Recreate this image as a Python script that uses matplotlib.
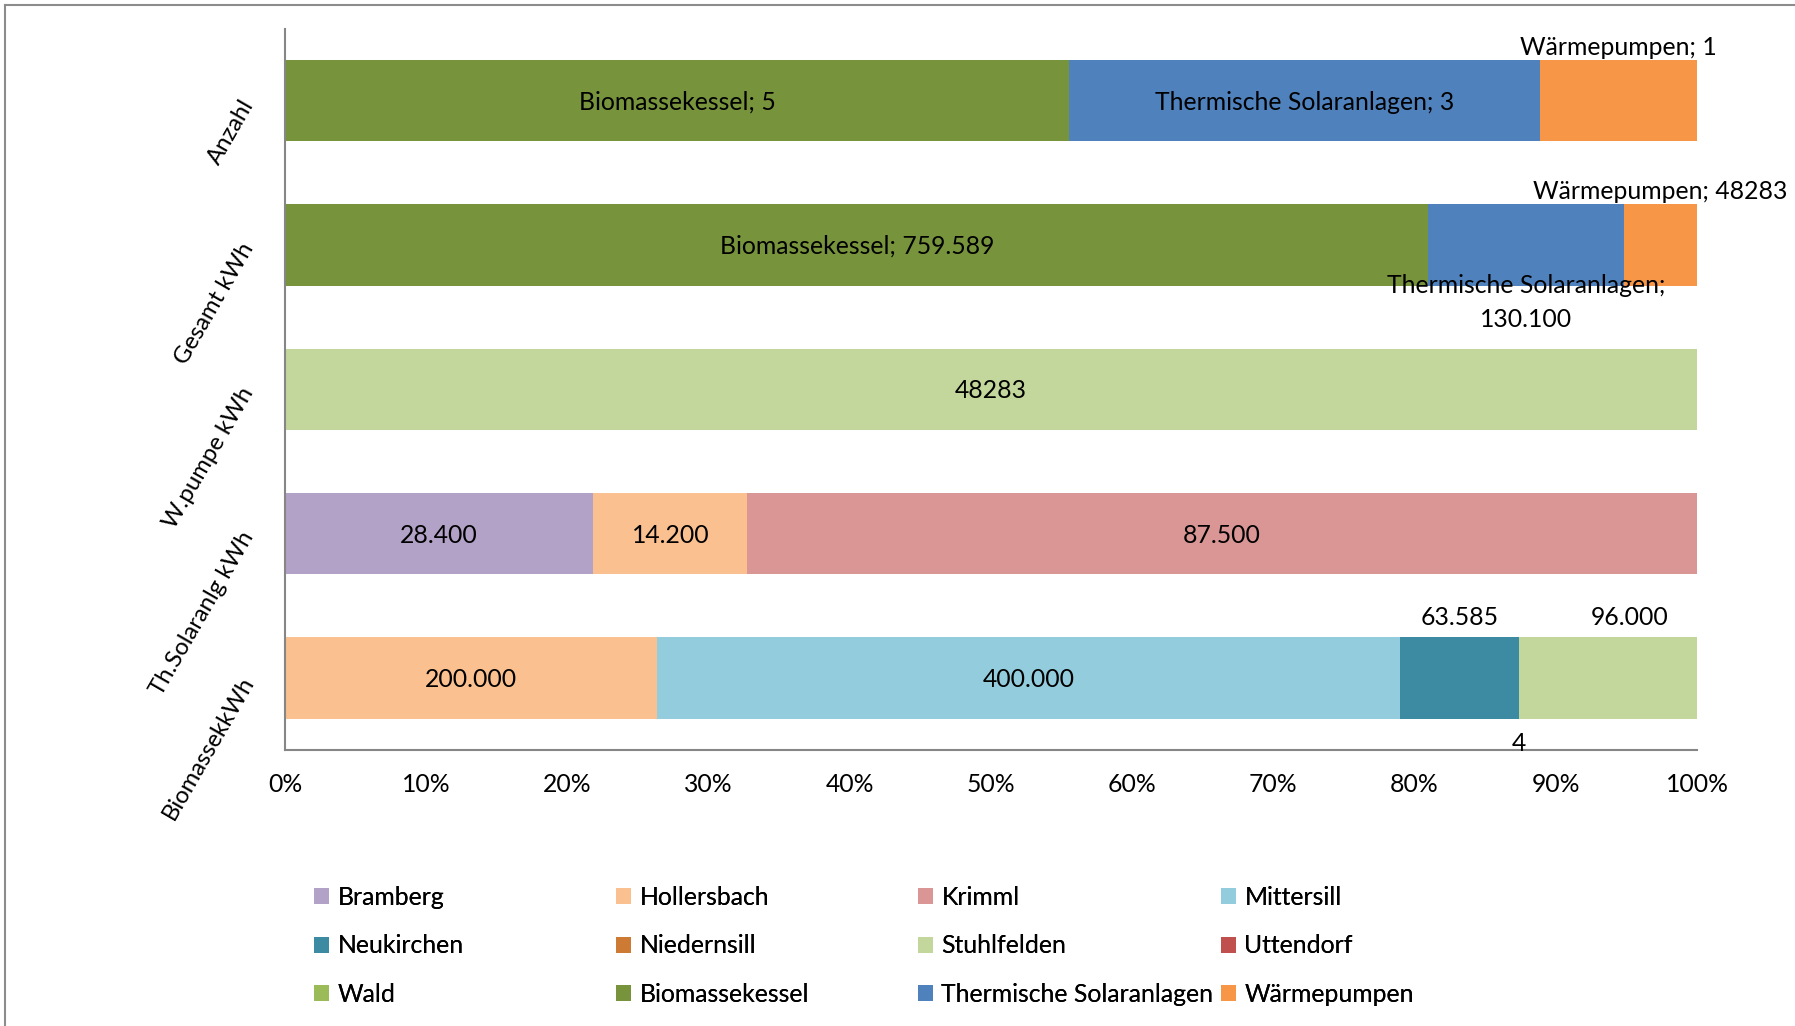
import matplotlib
matplotlib.use("Agg")
import matplotlib.pyplot as plt
from matplotlib.patches import Patch
from matplotlib.lines import Line2D
import numpy as np

plt.rcParams['font.family'] = ['Lato', 'DejaVu Sans']

# Categories, bottom to top
categories = ["BiomassekkWh", "Th.Solaranlg kWh", "W.pumpe kWh", "Gesamt kWh", "Anzahl"]

# Series values per category (same order as categories)
bramberg       = [0,      28400, 0,     0,      0]
hollersbach    = [200000, 14200, 0,     0,      0]
krimml         = [0,      87500, 0,     0,      0]
mittersill     = [400000, 0,     0,     0,      0]
neukirchen     = [63585,  0,     0,     0,      0]
niedernsill    = [4,      0,     0,     0,      0]
stuhlfelden    = [96000,  0,     48283, 0,      0]
uttendorf      = [0,      0,     0,     0,      0]
wald           = [0,      0,     0,     0,      0]
biomassekessel = [0,      0,     0,     759589, 5]
thermisch      = [0,      0,     0,     130100, 3]
waermepumpen   = [0,      0,     0,     48283,  1]

series_names = ["Bramberg", "Hollersbach", "Krimml", "Mittersill", "Neukirchen",
                "Niedernsill", "Stuhlfelden", "Uttendorf", "Wald",
                "Biomassekessel", "Thermische Solaranlagen", "Wärmepumpen"]
series_values = [bramberg, hollersbach, krimml, mittersill, neukirchen,
                 niedernsill, stuhlfelden, uttendorf, wald,
                 biomassekessel, thermisch, waermepumpen]
colors = ["#B3A2C7", "#FAC090", "#D99694", "#93CDDD", "#3C8BA3",
          "#CD7A35", "#C3D69B", "#C0504D", "#9BBB59",
          "#77933C", "#4F81BD", "#F79646"]

xtick_labels = ["0%", "10%", "20%", "30%", "40%", "50%", "60%", "70%", "80%", "90%", "100%"]

# Series whose labels carry the series name
named_series = {"Biomassekessel", "Thermische Solaranlagen", "Wärmepumpen"}
# Cells printed without thousands separator
plain_cells = {("Stuhlfelden", 2), ("Wärmepumpen", 3)}
# Label placement: (where, dx px, dy px) relative to segment centre / edges
placement = {
    ("Wärmepumpen", 4): ("above", 0, 12.5),
    ("Wärmepumpen", 3): ("above", 0, 12.5),
    ("Thermische Solaranlagen", 3): ("below", 0, 17),
    ("Neukirchen", 0): ("above", 0, 20),
    ("Stuhlfelden", 0): ("above", 22, 20),
    ("Niedernsill", 0): ("below", 0, 25),
}

FS = 17.8
DPI = 100
fig = plt.figure(figsize=(17.95, 10.26), dpi=DPI)
ax = fig.add_axes([285 / 1795, 1 - 750 / 1026, (1697 - 285) / 1795, (750 - 28.6) / 1026])

vals = np.array(series_values, dtype=float)
totals = vals.sum(axis=0)
shares = vals / totals
y = np.arange(len(categories))
bar_h = 0.564
left = np.zeros(len(categories))
px2pt = 72 / DPI


def fmt(v, grouped=True):
    s = f"{int(round(v)):,}"
    return s.replace(",", ".") if grouped else s.replace(",", "")


for name, v, sh, c in zip(series_names, vals, shares, colors):
    ax.barh(y, sh, left=left, height=bar_h, color=c, edgecolor="none")
    for i in range(len(categories)):
        if v[i] <= 0:
            continue
        num = fmt(v[i], (name, i) not in plain_cells)
        where, dx, dy = placement.get((name, i), ("center", 0, 0))
        if name in named_series:
            sep = ";\n" if where == "below" else "; "
            txt = f"{name}{sep}{num}"
        else:
            txt = num
        xc = left[i] + sh[i] / 2
        if where == "center":
            ax.annotate(txt, (xc, y[i]), xytext=(dx * px2pt, -1.5 * px2pt),
                        textcoords="offset points", ha="center", va="center",
                        fontsize=FS, color="black")
        elif where == "above":
            ax.annotate(txt, (xc, y[i] + bar_h / 2), xytext=(dx * px2pt, dy * px2pt),
                        textcoords="offset points", ha="center", va="center",
                        fontsize=FS, color="black")
        else:
            ax.annotate(txt, (xc, y[i] - bar_h / 2), xytext=(dx * px2pt, -dy * px2pt),
                        textcoords="offset points", ha="center", va="center",
                        fontsize=FS, color="black", linespacing=1.6)
    left = left + sh

ax.set_xlim(0, 1)
ax.set_ylim(-0.5, len(categories) - 0.5)
ax.set_xticks(np.linspace(0, 1, 11))
ax.set_xticklabels(xtick_labels, fontsize=FS)
ax.set_yticks(y)
ax.set_yticklabels(categories, fontsize=17.2, rotation=60, ha="right", va="center",
                   rotation_mode="anchor")
ax.tick_params(axis="both", length=0)
ax.tick_params(axis="x", pad=16.5)
ax.tick_params(axis="y", pad=26)
for s in ["top", "right"]:
    ax.spines[s].set_visible(False)
for s in ["left", "bottom"]:
    ax.spines[s].set_color("#868686")
    ax.spines[s].set_linewidth(1.5)

# Legend laid out as four columns, row-major like the series order
handles = [Patch(facecolor=c, edgecolor="none") for c in colors]
col_x = [314, 616, 918, 1221]
for j, cx in enumerate(col_x):
    idx = [j, j + 4, j + 8]
    leg = fig.legend([handles[k] for k in idx], [series_names[k] for k in idx],
                     loc="upper left", bbox_to_anchor=(cx / 1795, 1 - 886 / 1026),
                     frameon=False, fontsize=FS, handlelength=0.6, handleheight=0.6,
                     handletextpad=0.35, labelspacing=1.03, borderpad=0, borderaxespad=0)
    fig.add_artist(leg)

# Chart border (left and top edges)
fig.add_artist(Line2D([5 / 1795, 5 / 1795], [0, 1 - 5 / 1026], transform=fig.transFigure,
                      color="#8C8C8C", linewidth=1.5))
fig.add_artist(Line2D([5 / 1795, 1], [1 - 5 / 1026, 1 - 5 / 1026], transform=fig.transFigure,
                      color="#8C8C8C", linewidth=1.5))

fig.savefig("out.png", dpi=DPI)
